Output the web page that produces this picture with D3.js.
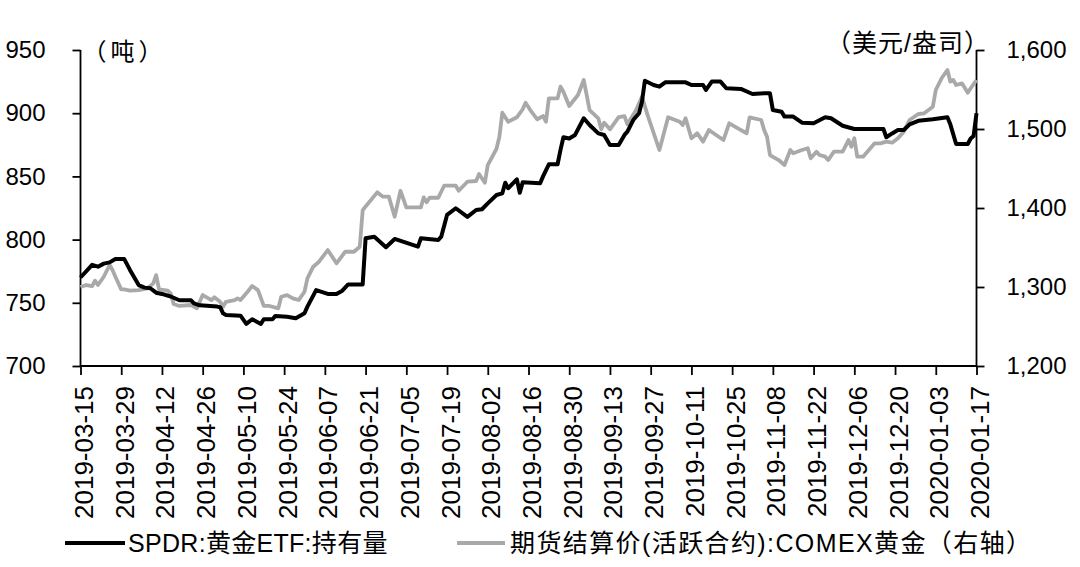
<!DOCTYPE html>
<html><head><meta charset="utf-8">
<script src="https://cdn.jsdelivr.net/npm/d3@7"></script>
<style>
body{margin:0;background:#fff}
svg{display:block}
text{font-family:"Liberation Sans",Arial,"Noto Sans CJK SC",sans-serif;fill:#000}
</style>
</head><body>
<svg id="c" width="1080" height="567"></svg>
<script>
const xTickLabels = ["2019-03-15","2019-03-29","2019-04-12","2019-04-26","2019-05-10","2019-05-24","2019-06-07","2019-06-21","2019-07-05","2019-07-19","2019-08-02","2019-08-16","2019-08-30","2019-09-13","2019-09-27","2019-10-11","2019-10-25","2019-11-08","2019-11-22","2019-12-06","2019-12-20","2020-01-03","2020-01-17"];
const leftTicks = [700,750,800,850,900,950];
const rightTicks = [1200,1300,1400,1500,1600];

const spdrDates = ["2019-03-15","2019-03-19","2019-03-21","2019-03-23","2019-03-25","2019-03-27","2019-03-30","2019-04-01","2019-04-04","2019-04-06","2019-04-08","2019-04-10","2019-04-12","2019-04-15","2019-04-17","2019-04-18","2019-04-22","2019-04-23","2019-04-25","2019-05-01","2019-05-02","2019-05-03","2019-05-04","2019-05-09","2019-05-11","2019-05-13","2019-05-16","2019-05-17","2019-05-20","2019-05-21","2019-05-25","2019-05-28","2019-05-31","2019-06-01","2019-06-04","2019-06-08","2019-06-11","2019-06-13","2019-06-15","2019-06-20","2019-06-21","2019-06-24","2019-06-28","2019-07-01","2019-07-09","2019-07-10","2019-07-16","2019-07-17","2019-07-19","2019-07-22","2019-07-26","2019-07-29","2019-07-31","2019-08-02","2019-08-05","2019-08-07","2019-08-08","2019-08-09","2019-08-12","2019-08-13","2019-08-14","2019-08-20","2019-08-21","2019-08-23","2019-08-26","2019-08-27","2019-08-28","2019-08-30","2019-09-01","2019-09-04","2019-09-06","2019-09-09","2019-09-11","2019-09-13","2019-09-16","2019-09-18","2019-09-19","2019-09-21","2019-09-23","2019-09-24","2019-09-25","2019-09-28","2019-09-30","2019-10-02","2019-10-09","2019-10-11","2019-10-15","2019-10-16","2019-10-18","2019-10-21","2019-10-23","2019-10-28","2019-11-01","2019-11-05","2019-11-07","2019-11-08","2019-11-11","2019-11-12","2019-11-15","2019-11-18","2019-11-22","2019-11-26","2019-11-28","2019-12-02","2019-12-06","2019-12-16","2019-12-17","2019-12-19","2019-12-21","2019-12-23","2019-12-25","2019-12-28","2020-01-02","2020-01-07","2020-01-08","2020-01-10","2020-01-14","2020-01-15","2020-01-16","2020-01-17"];
const spdrValues = [770,780,778.6,781,782,784.7,784.7,776,764,762,761.5,758,757,755,753,752,752,749.6,748,747,746.5,741.7,740.4,739.8,733.3,737,733.3,737,737,739.6,739,737.8,741.7,747,760,757,757,759.6,764.5,764.5,801,802.3,794,800.5,794.4,801,799.7,802.3,819.5,824.8,818,823.4,824,828.7,835.3,836.6,845,840.6,847.7,837,845.3,844.6,850,859.6,859.6,871,881,880,882.8,896,890.7,884,882.8,874.9,874.9,882.8,885.4,894.6,900,909,925.7,922.3,921,924.4,924.4,922.3,922.3,918.4,925,925,919.7,919.2,915.2,915.7,915.7,902.5,901.2,897.3,897.3,892.5,892,896.8,896,890.1,887.5,887.5,881,884,886.7,886.7,891.2,894,895.2,896.8,891.2,875.6,875.6,880,882,900];

const comexDates = ["2019-03-15","2019-03-17","2019-03-19","2019-03-20","2019-03-21","2019-03-23","2019-03-25","2019-03-26","2019-03-27","2019-03-29","2019-03-30","2019-04-01","2019-04-04","2019-04-07","2019-04-09","2019-04-10","2019-04-11","2019-04-14","2019-04-15","2019-04-16","2019-04-18","2019-04-22","2019-04-24","2019-04-26","2019-04-28","2019-04-29","2019-04-30","2019-05-02","2019-05-03","2019-05-04","2019-05-07","2019-05-08","2019-05-09","2019-05-11","2019-05-13","2019-05-15","2019-05-17","2019-05-19","2019-05-22","2019-05-23","2019-05-25","2019-05-27","2019-05-29","2019-05-31","2019-06-01","2019-06-03","2019-06-05","2019-06-08","2019-06-11","2019-06-14","2019-06-17","2019-06-19","2019-06-20","2019-06-21","2019-06-25","2019-06-27","2019-06-29","2019-07-01","2019-07-03","2019-07-05","2019-07-10","2019-07-11","2019-07-12","2019-07-13","2019-07-16","2019-07-18","2019-07-22","2019-07-23","2019-07-26","2019-07-29","2019-07-30","2019-08-01","2019-08-02","2019-08-05","2019-08-06","2019-08-07","2019-08-09","2019-08-12","2019-08-14","2019-08-15","2019-08-17","2019-08-19","2019-08-21","2019-08-22","2019-08-23","2019-08-26","2019-08-27","2019-08-28","2019-08-30","2019-09-02","2019-09-04","2019-09-06","2019-09-09","2019-09-10","2019-09-11","2019-09-13","2019-09-16","2019-09-18","2019-09-19","2019-09-22","2019-09-24","2019-09-26","2019-09-30","2019-10-03","2019-10-07","2019-10-08","2019-10-09","2019-10-11","2019-10-13","2019-10-15","2019-10-17","2019-10-22","2019-10-24","2019-10-27","2019-10-30","2019-10-31","2019-11-04","2019-11-05","2019-11-06","2019-11-07","2019-11-10","2019-11-12","2019-11-14","2019-11-15","2019-11-18","2019-11-20","2019-11-21","2019-11-23","2019-11-24","2019-11-26","2019-11-27","2019-11-29","2019-12-02","2019-12-04","2019-12-05","2019-12-06","2019-12-07","2019-12-09","2019-12-11","2019-12-13","2019-12-15","2019-12-17","2019-12-19","2019-12-21","2019-12-23","2019-12-25","2019-12-28","2019-12-30","2020-01-02","2020-01-03","2020-01-05","2020-01-07","2020-01-08","2020-01-09","2020-01-10","2020-01-12","2020-01-14","2020-01-15","2020-01-17"];
const comexValues = [1300,1302.5,1301,1308,1302.5,1313,1327.8,1321.5,1313,1297,1297,1295.3,1296,1298.3,1304.6,1315,1297,1295.3,1292,1278.4,1276,1277.2,1273,1289.8,1285.6,1283.5,1287,1281.3,1275,1281.3,1283.5,1285.6,1283.5,1292,1301.2,1296,1276,1276,1273,1287.7,1289.8,1285.6,1283.5,1294,1311,1325.7,1332,1346.8,1330,1344.6,1344.6,1351,1397,1402,1419.8,1414.3,1414.3,1389,1421.8,1400.8,1400.8,1413.5,1407.2,1413,1413,1428.2,1428.2,1421.8,1433.3,1434.2,1443,1432,1454.4,1475,1490.2,1520.6,1509.2,1514.8,1525,1533.3,1521.9,1512.3,1516.4,1509.2,1538.8,1538.8,1553.6,1547.2,1529.1,1543,1562,1524,1513.5,1499.6,1508,1499.6,1515,1516.4,1506,1524,1540.9,1517,1473.4,1514.8,1509.2,1505,1513.5,1488.2,1494.6,1484,1498.7,1486,1507.2,1500.9,1494.6,1514.8,1511.4,1498.7,1490.2,1467,1460.7,1454.4,1473.4,1469.2,1473.4,1475.6,1462.9,1471.3,1467.1,1465,1460.7,1471.3,1471.3,1486,1477.6,1488.2,1465,1465,1473.4,1481.9,1481.9,1484,1482.7,1488.2,1496.6,1511.4,1519,1519.9,1528.2,1549.4,1564.2,1574.7,1559.9,1562,1555.7,1557.8,1546,1551.5,1562];

const legendLabels = ["SPDR:黄金ETF:持有量","期货结算价(活跃合约):COMEX黄金（右轴）"];
const unitLeft = "（吨）";
const unitRight = "（美元/盎司）";

const parse = d3.utcParse("%Y-%m-%d");
const svg = d3.select("#c");
const L = 80.5, R = 976.5, T = 50, B = 366;

const x = d3.scaleUtc().domain([parse(xTickLabels[0]), parse(xTickLabels[xTickLabels.length-1])]).range([L, R]);
const yL = d3.scaleLinear().domain([700, 950]).range([B, T]);
const yR = d3.scaleLinear().domain([1200, 1600]).range([B, T]);

// axes
const axL = svg.append("g").attr("transform", `translate(${L},0)`)
  .call(d3.axisLeft(yL).tickValues(leftTicks).tickSize(8).tickPadding(27).tickFormat(d3.format("d")));
const axR = svg.append("g").attr("transform", `translate(${R},0)`)
  .call(d3.axisRight(yR).tickValues(rightTicks).tickSize(8).tickPadding(22).tickFormat(d3.format(",")));
const axB = svg.append("g").attr("transform", `translate(0,${B})`)
  .call(d3.axisBottom(x).tickValues(xTickLabels.map(parse)).tickSize(9).tickFormat(d3.utcFormat("%Y-%m-%d")));

[axL, axR, axB].forEach(g => {
  g.select(".domain").attr("stroke", "#000").attr("stroke-width", 1.8);
  g.selectAll(".tick line").attr("stroke", "#000").attr("stroke-width", 1.8);
  g.selectAll("text").attr("font-family", null).style("font-size", "24px").attr("fill", "#000");
});
axL.select(".domain").attr("d", `M0,${T}V${B}`);
axR.select(".domain").attr("d", `M0,${T}V${B}`);
axB.select(".domain").attr("d", `M${L},0H${R}`);
axB.selectAll("text")
  .attr("transform", "rotate(-90)")
  .attr("x", -20).attr("y", 0).attr("dy", "0.46em")
  .style("text-anchor", "end").style("font-size", "26px");

// lines
const lineL = d3.line().x((d, i) => x(parse(spdrDates[i]))).y(d => yL(d));
const lineR = d3.line().x((d, i) => x(parse(comexDates[i]))).y(d => yR(d));
svg.append("path").datum(comexValues).attr("d", lineR)
  .attr("fill", "none").attr("stroke", "#a9a9a9").attr("stroke-width", 3.8).attr("stroke-linejoin", "round");
svg.append("path").datum(spdrValues).attr("d", lineL)
  .attr("fill", "none").attr("stroke", "#000").attr("stroke-width", 4).attr("stroke-linejoin", "round");

// unit labels
svg.append("text").attr("x", L + 2).attr("y", 52).attr("dy", "0.35em").style("font-size", "24px").style("letter-spacing", "4px").text(unitLeft);
svg.append("text").attr("x", 990).attr("y", 43).attr("dy", "0.35em").style("text-anchor", "end").style("font-size", "25px").style("letter-spacing", "1px").text(unitRight);

// legend
const lg = [
  {x1: 65, x2: 125, tx: 128, color: "#000", label: legendLabels[0], ls: 0.3},
  {x1: 457, x2: 505, tx: 510, color: "#a9a9a9", label: legendLabels[1], ls: 1.4}
];
const lgY = 543;
lg.forEach(d => {
  svg.append("line").attr("x1", d.x1).attr("x2", d.x2).attr("y1", lgY).attr("y2", lgY)
    .attr("stroke", d.color).attr("stroke-width", 4);
  svg.append("text").attr("x", d.tx).attr("y", lgY).attr("dy", "0.36em").style("font-size", "25px")
    .style("letter-spacing", d.ls + "px").text(d.label);
});
</script>
</body></html>
